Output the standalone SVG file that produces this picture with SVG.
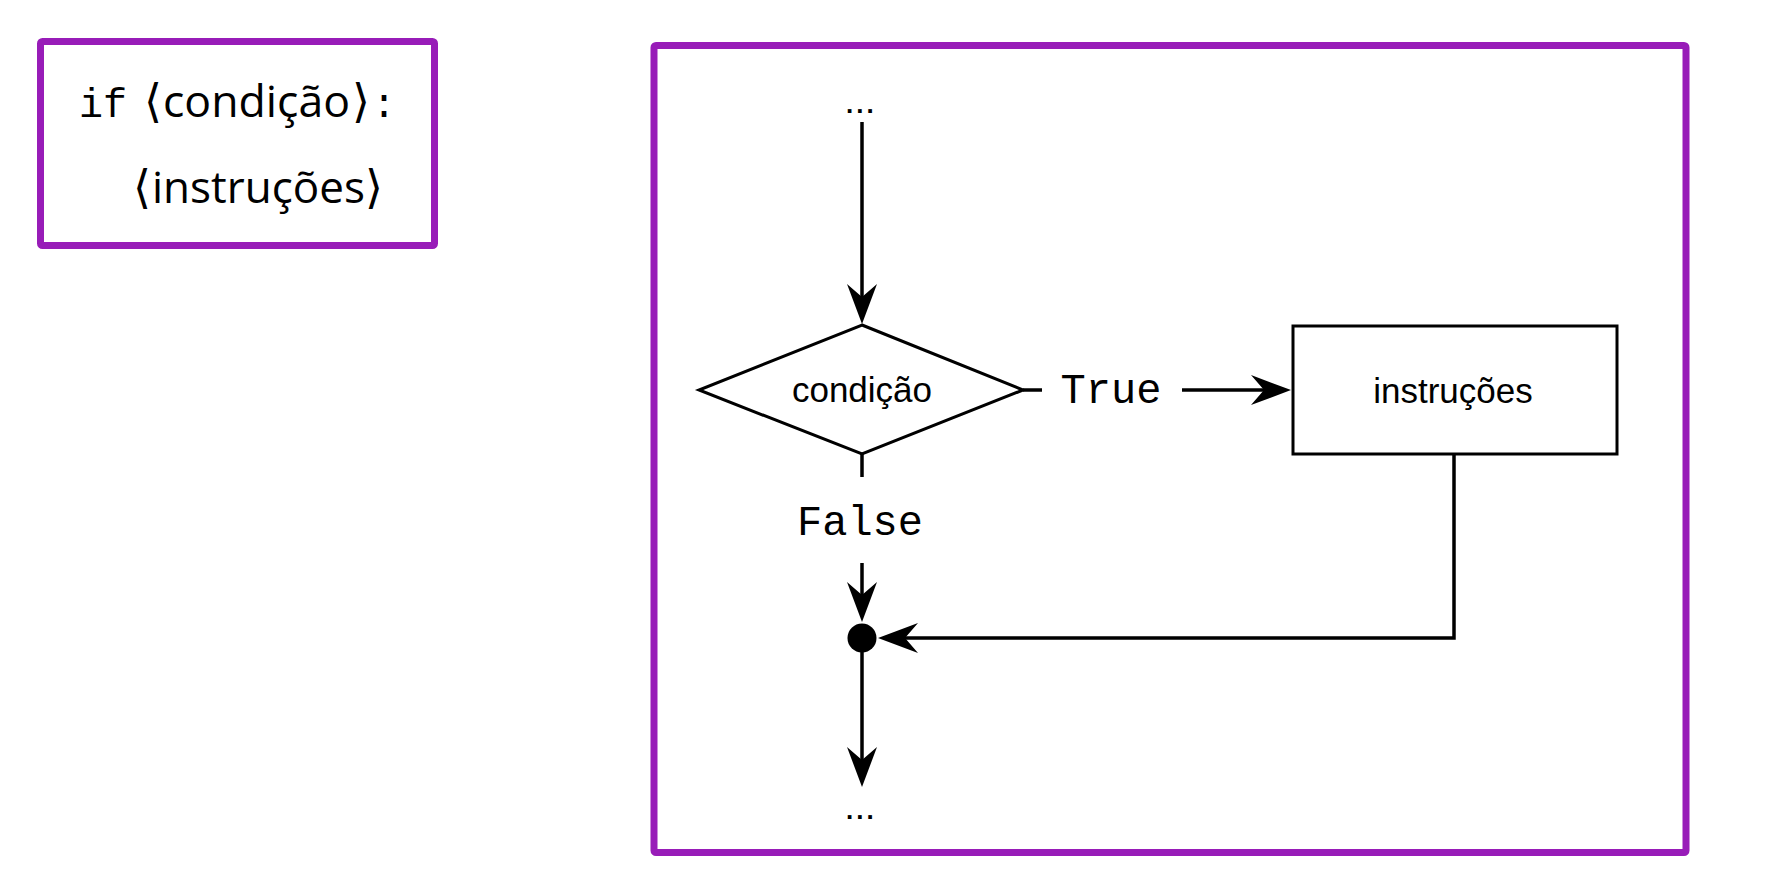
<svg xmlns="http://www.w3.org/2000/svg" width="1766" height="878" viewBox="0 0 1766 878">
  <style>
    .frame { fill: none; stroke: #981cb8; stroke-width: 7; stroke-linejoin: round; }
    .shape { fill: #ffffff; stroke: #000000; stroke-width: 3; }
    .conn { fill: none; stroke: #000000; stroke-width: 3.5; }
    .lbl { font-family: "Liberation Sans", Arial, sans-serif; font-size: 35px; fill: #000; text-anchor: middle; }
    .mono { font-family: "Liberation Mono", "Courier New", monospace; font-size: 42px; fill: #000; text-anchor: middle; }
    .dots { font-family: "Liberation Sans", Arial, sans-serif; font-size: 26px; font-weight: bold; fill: #000; letter-spacing: 3px; }
    .code { font-family: "Liberation Mono", "DejaVu Sans Mono", monospace; font-size: 40px; fill: #000; }
    .prose { font-family: "Open Sans", "Noto Sans", "DejaVu Sans", sans-serif; font-size: 43px; fill: #000; }
    .brk { font-family: "DejaVu Sans", "Noto Sans", sans-serif; font-size: 46px; fill: #000; font-weight: 300; }
  </style>
  <defs>
    <marker id="arrow" viewBox="0 0 40 30" refX="30" refY="15" markerWidth="40" markerHeight="30" markerUnits="userSpaceOnUse" orient="auto">
      <path d="M40,15 L0,0 L13,15 L0,30 Z" fill="#000"/>
    </marker>
  </defs>
  <rect width="1766" height="878" fill="#ffffff"/>

  <g id="code-box">
    <rect class="frame" x="40.5" y="41.5" width="394" height="204" rx="2"/>
    <text class="code" x="79" y="117">if</text>
    <text class="brk" x="144" y="117">⟨</text>
    <text class="prose" x="163" y="117" textLength="187" lengthAdjust="spacingAndGlyphs">condição</text>
    <text class="brk" x="352" y="117">⟩</text>
    <text class="code" x="372" y="117">:</text>
    <text class="brk" x="133" y="203">⟨</text>
    <text class="prose" x="152" y="203" textLength="213" lengthAdjust="spacingAndGlyphs">instruções</text>
    <text class="brk" x="365" y="203">⟩</text>
  </g>

  <g id="flow-frame">
    <rect class="frame" x="654" y="45.5" width="1032" height="807" rx="2"/>
  </g>

  <g id="start">
    <text class="dots" x="846" y="113">...</text>
  </g>

  <g id="condicao">
    <polygon class="shape" points="862,325 1023,390 862,454 699,390"/>
    <text class="lbl" x="862" y="402">condição</text>
  </g>

  <g id="instrucoes">
    <rect class="shape" x="1293" y="326" width="324" height="128"/>
    <text class="lbl" x="1453" y="403">instruções</text>
  </g>

  <g id="join">
    <circle cx="862" cy="638" r="14.5" fill="#000"/>
  </g>

  <g id="end">
    <text class="dots" x="846" y="819">...</text>
  </g>

  <g id="connectors">
    <line class="conn" x1="862" y1="122" x2="862" y2="314" marker-end="url(#arrow)"/>
    <line class="conn" x1="1023" y1="390" x2="1042" y2="390"/>
    <text class="mono" x="1111" y="403">True</text>
    <line class="conn" x1="1182" y1="390" x2="1281" y2="390" marker-end="url(#arrow)"/>
    <line class="conn" x1="862" y1="454" x2="862" y2="477"/>
    <text class="mono" x="860" y="535">False</text>
    <line class="conn" x1="862" y1="563" x2="862" y2="612" marker-end="url(#arrow)"/>
    <path class="conn" d="M1454,454 V638 H888" marker-end="url(#arrow)"/>
    <line class="conn" x1="862" y1="638" x2="862" y2="777" marker-end="url(#arrow)"/>
  </g>
</svg>
